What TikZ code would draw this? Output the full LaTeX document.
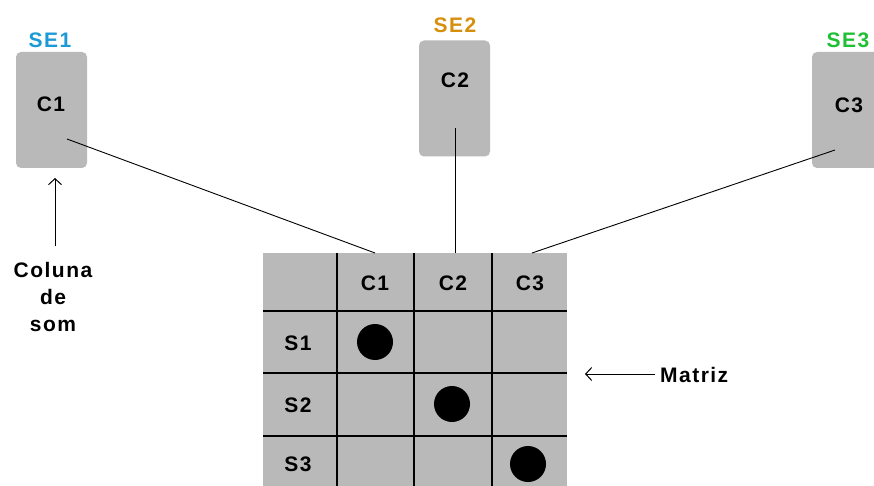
\documentclass[tikz,border=0pt]{standalone}
\usepackage{fontspec}
\setmainfont{Liberation Sans}[LetterSpace=7]
\usetikzlibrary{arrows.meta}
\definecolor{boxgrey}{HTML}{B9B9B9}
\definecolor{seblue}{HTML}{1C9AD6}
\definecolor{seorange}{HTML}{D68F0C}
\definecolor{segreen}{HTML}{20BF35}
\tikzset{
  txt/.style={font=\fontsize{21}{27}\selectfont\bfseries, inner sep=0pt},
  sebox/.style={fill=boxgrey, rounded corners=5pt, minimum width=71pt, minimum height=116pt, inner sep=0pt},
  conn/.style={draw=black, line width=0.9pt},
  grid/.style={draw=black, line width=1.1pt},
  pointer/.style={draw=black, line width=1pt, -{Straight Barb[length=6pt,width=13pt]}},
  dot/.style={circle, fill=black, minimum size=36pt, inner sep=0pt}
}
\begin{document}
\begin{tikzpicture}[x=1pt,y=-1pt]
\clip (0,0) rectangle (874,486);
\useasboundingbox (0,0) rectangle (874,486);
\fill[white] (0,0) rectangle (874,486);
% sound column boxes
\node[sebox] (b1) at (51.5,110) {};
\node[sebox] (b2) at (454.5,98.5) {};
\node[sebox] (b3) at (847.5,110) {};
\node[txt, text=seblue] (se1) at (50,40) {SE1};
\node[txt, text=seorange] (se2) at (455,25) {SE2};
\node[txt, text=segreen] (se3) at (848,40) {SE3};
\node[txt] (c1) at (51,104) {C1};
\node[txt] (c2) at (455,80) {C2};
\node[txt] (c3) at (849,105) {C3};
% matrix
\fill[boxgrey] (263,253) rectangle (567,500);
\foreach \x in {337,414,492} \draw[grid] (\x,253) -- (\x,500);
\foreach \y in {311,373,436} \draw[grid] (263,\y) -- (567,\y);
\node[txt] (h1) at (375,283) {C1};
\node[txt] (h2) at (453,283) {C2};
\node[txt] (h3) at (530,283) {C3};
\node[txt] (s1) at (298,343) {S1};
\node[txt] (s2) at (298,405) {S2};
\node[txt] (s3) at (298,464) {S3};
\node[dot] (d1) at (375,342) {};
\node[dot] (d2) at (452,404) {};
\node[dot] (d3) at (528,464) {};
\coordinate (t1) at (375,253);
\coordinate (t2) at (455,253);
\coordinate (t3) at (532,253);
\coordinate (e1) at (67,139);
\coordinate (e2) at (455,128);
\coordinate (e3) at (835,150);
\draw[conn] (e1) -- (t1);
\draw[conn] (e2) -- (t2);
\draw[conn] (e3) -- (t3);
% labels
\node[txt, align=center] (coluna) at (53,297) {Coluna\\de\\som};
\coordinate (a1) at (55,246);
\coordinate (a2) at (55,178);
\draw[pointer] (a1) -- (a2);
\node[txt, anchor=west] (matriz) at (660,375) {Matriz};
\coordinate (m1) at (655,374);
\coordinate (m2) at (585,374);
\draw[pointer] (m1) -- (m2);
\end{tikzpicture}
\end{document}
